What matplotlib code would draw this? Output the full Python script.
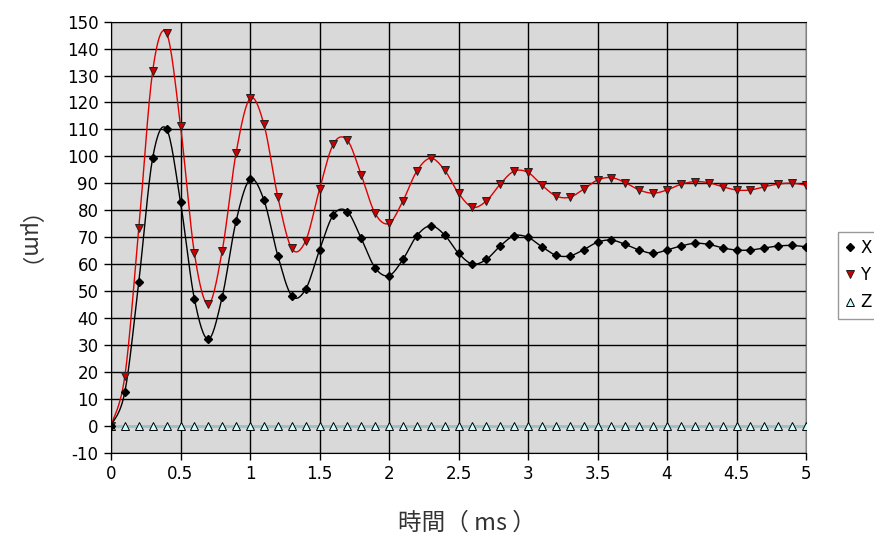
import matplotlib
matplotlib.use("Agg")
import matplotlib.pyplot as plt
import numpy as np

# time axis (ms), one sample every 0.1 ms
t_ms = [round(0.1 * i, 1) for i in range(51)]

x_um = [0.0, 12.6, 53.4, 99.5, 110.1, 83.1, 47.0, 32.1, 47.8, 76.0,
        91.4, 83.8, 63.1, 48.2, 50.6, 65.2, 78.3, 79.5, 69.5, 58.6,
        55.7, 61.7, 70.5, 74.2, 70.8, 64.0, 60.0, 61.7, 66.7, 70.5,
        69.9, 66.4, 63.3, 63.0, 65.3, 68.1, 68.9, 67.3, 65.2, 64.0,
        65.2, 66.7, 67.7, 67.3, 66.0, 65.2, 65.2, 66.0, 66.7, 66.9,
        66.4]
y_um = [0.0, 18.5, 73.2, 131.8, 145.7, 111.4, 64.0, 45.1, 64.9, 101.3,
        121.5, 111.9, 85.0, 65.8, 68.6, 87.7, 104.6, 106.0, 93.1, 78.8,
        75.1, 83.4, 94.5, 99.3, 94.9, 86.3, 81.1, 83.4, 89.7, 94.5,
        94.0, 89.3, 85.3, 84.8, 87.8, 91.2, 92.1, 90.2, 87.5, 86.3,
        87.5, 89.6, 90.6, 90.2, 88.7, 87.5, 87.5, 88.7, 89.7, 90.0,
        89.3]
z_um = [0.0] * 51

y_ticks = list(range(-10, 151, 10))
x_ticks = [0, 0.5, 1, 1.5, 2, 2.5, 3, 3.5, 4, 4.5, 5]
x_tick_labels = ["0", "0.5", "1", "1.5", "2", "2.5", "3", "3.5", "4", "4.5", "5"]


def smooth(xs, ys, n=16):
    # Catmull-Rom spline through the points (like the spreadsheet "smoothed line")
    p = np.column_stack([xs, ys]).astype(float)
    p = np.vstack([p[0], p, p[-1]])
    out = []
    s = np.linspace(0, 1, n, endpoint=False)[:, None]
    for i in range(1, len(p) - 2):
        p0, p1, p2, p3 = p[i - 1], p[i], p[i + 1], p[i + 2]
        seg = 0.5 * ((2 * p1) + (-p0 + p2) * s
                     + (2 * p0 - 5 * p1 + 4 * p2 - p3) * s ** 2
                     + (-p0 + 3 * p1 - 3 * p2 + p3) * s ** 3)
        out.append(seg)
    out.append(p[-2][None, :])
    out = np.vstack(out)
    return out[:, 0], out[:, 1]


plt.rcParams["font.family"] = ["DejaVu Sans"]
plt.rcParams["axes.unicode_minus"] = False

fig = plt.figure(figsize=(8.74, 5.35), dpi=100)
ax = fig.add_axes([111 / 874, 1 - 452.5 / 535, 695 / 874, (452.5 - 21.7) / 535])
ax.set_facecolor("#d9d9d9")

ax.plot(t_ms, z_um, color="#9fc4c4", lw=2, zorder=2)
ax.plot(t_ms, z_um, ls="none", marker="^", ms=5.5, mfc="#ccffff", mec="black",
        mew=0.7, zorder=3, label="Z")

sx, sy = smooth(t_ms, y_um)
ax.plot(sx, sy, color="#e00000", lw=1, zorder=4)
ax.plot(t_ms, y_um, ls="none", marker="v", ms=5.8, mfc="#cc0000", mec="#202020",
        mew=0.7, zorder=5, label="Y")

sx, sy = smooth(t_ms, x_um)
ax.plot(sx, sy, color="black", lw=1, zorder=4)
ax.plot(t_ms, x_um, ls="none", marker="D", ms=4.0, mfc="black", mec="black",
        zorder=6, label="X")

ax.set_xlim(0, 5)
ax.set_ylim(-10, 150)
ax.set_xticks(x_ticks)
ax.set_xticklabels(x_tick_labels)
ax.set_yticks(y_ticks)
ax.grid(True, color="black", lw=1)
ax.set_axisbelow(True)
for side in ["left", "bottom", "top"]:
    ax.spines[side].set_color("black")
ax.spines["right"].set_color("#808080")
ax.tick_params(direction="out", length=5, width=1, labelsize=12, pad=4)

ax.set_xlabel("時間（ ms ）", family=["Noto Sans CJK JP", "DejaVu Sans"],
              fontsize=17, color="#333333", va="center")
ax.xaxis.set_label_coords(0.5115, -0.164)
ax.set_ylabel("（μm）", family=["Noto Sans CJK JP", "DejaVu Sans"],
              fontsize=16, color="#333333", rotation=-90, rotation_mode="default",
              ha="center", va="center")
ax.yaxis.set_label_coords(-0.138, 0.4605)

handles, labels = ax.get_legend_handles_labels()
order = [2, 1, 0]
leg = fig.legend([handles[i] for i in order], [labels[i] for i in order],
                 loc="upper left", bbox_to_anchor=(838 / 874, 1 - 231.5 / 535),
                 fontsize=12, frameon=True, fancybox=False, edgecolor="#808080",
                 handlelength=0.5, handletextpad=0.4, borderpad=0.45,
                 labelspacing=0.55, borderaxespad=0)
leg.get_frame().set_linewidth(1)

fig.savefig("out.png", dpi=100)
